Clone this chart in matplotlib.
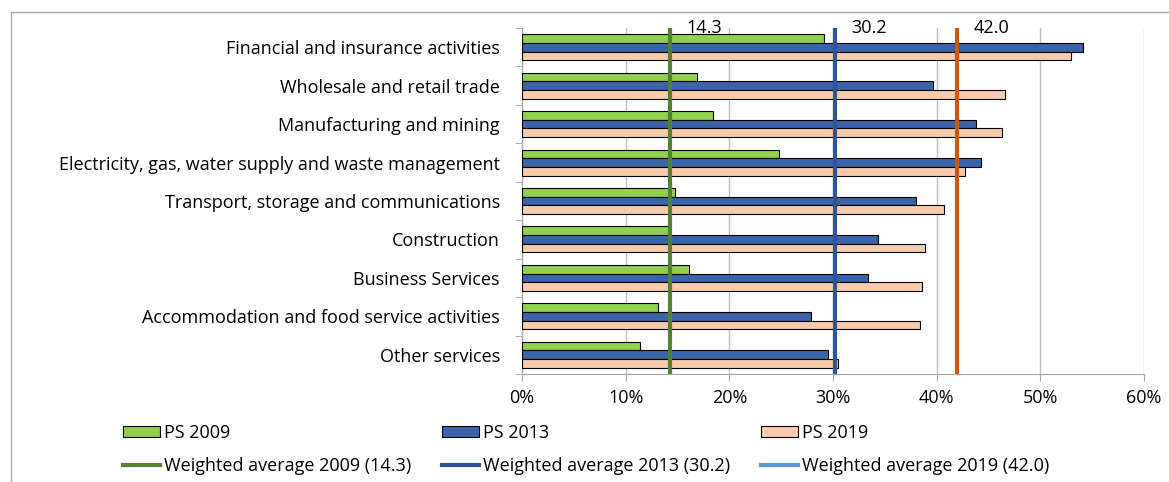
import matplotlib.pyplot as plt
from matplotlib.patches import Patch, Rectangle
from matplotlib.lines import Line2D
import numpy as np

plt.rcParams['font.family'] = ['Open Sans', 'DejaVu Sans']

# Data (share, %)
sectors = ['Financial and insurance activities', 'Wholesale and retail trade',
           'Manufacturing and mining', 'Electricity, gas, water supply and waste management',
           'Transport, storage and communications', 'Construction', 'Business Services',
           'Accommodation and food service activities', 'Other services']
ps_2009 = [29.1, 16.9, 18.4, 24.8, 14.8, 14.2, 16.1, 13.1, 11.4]
ps_2013 = [54.1, 39.6, 43.8, 44.3, 38.0, 34.3, 33.4, 27.9, 29.5]
ps_2019 = [53.0, 46.6, 46.3, 42.7, 40.7, 38.9, 38.6, 38.4, 30.5]
avg_years = ['2009', '2013', '2019']
avg_values = [14.3, 30.2, 42.0]

c09, c13, c19 = '#92D050', '#3A63AA', '#F8CBAD'
line_cols = ['#548235', '#2F5597', '#C55A11']
legend_line_cols = ['#548235', '#2F5597', '#5B9BD5']

W, H = 1169, 482
fs = 13
fig = plt.figure(figsize=(W / 100, H / 100), dpi=100)
ax = fig.add_axes([522 / W, 1 - 374 / H, (1144 - 522) / W, (374 - 28) / H])

y = np.arange(len(sectors))
h = 0.225
ax.barh(y - h, ps_2009, height=h, color=c09, edgecolor='black', linewidth=0.8, zorder=3)
ax.barh(y, ps_2013, height=h, color=c13, edgecolor='black', linewidth=0.8, zorder=3)
ax.barh(y + h, ps_2019, height=h, color=c19, edgecolor='black', linewidth=0.8, zorder=3)

for v, c in zip(avg_values, line_cols):
    ax.axvline(v, color=c, linewidth=3, zorder=4)
    ax.text(v + 1.6, -0.5, f'{v:.1f}', fontsize=fs, ha='left', va='center', zorder=5,
            color='black')

ax.set_xlim(0, 60)
ax.set_ylim(len(sectors) - 0.5, -0.5)
ax.set_xticks(np.arange(0, 61, 10))
ax.set_xticklabels([f'{t}%' for t in range(0, 61, 10)], fontsize=fs)
ax.set_yticks(y)
ax.set_yticklabels(sectors, fontsize=fs)
ax.set_yticks(np.arange(-0.5, len(sectors), 1), minor=True)
ax.tick_params(axis='y', which='major', length=0, pad=16)
ax.tick_params(axis='y', which='minor', length=5, color='#A6A6A6')
ax.tick_params(axis='x', length=5, color='#A6A6A6', pad=6)
ax.xaxis.grid(True, color='#BFBFBF', linewidth=1, zorder=0)
for s in ['top', 'right']:
    ax.spines[s].set_visible(False)
for s in ['left', 'bottom']:
    ax.spines[s].set_color('#A6A6A6')

# outer chart frame (only left and top edges visible)
fig.patches.append(Rectangle((11 / W, -0.1), 1.2, 1 - 12 / H + 0.1,
                             transform=fig.transFigure, fill=False,
                             edgecolor='#A6A6A6', linewidth=1))

bar_handles = [Patch(facecolor=c, edgecolor='black', linewidth=0.8) for c in (c09, c13, c19)]
line_handles = [Line2D([0], [0], color=c, linewidth=3) for c in legend_line_cols]
bar_labels = ['PS 2009', 'PS 2013', 'PS 2019']
line_labels = [f'Weighted average {yr} ({v:.1f})' for yr, v in zip(avg_years, avg_values)]
handles, labels = [], []
for i in range(3):
    handles += [bar_handles[i], line_handles[i]]
    labels += [bar_labels[i], line_labels[i]]
fig.legend(handles, labels, ncol=3, frameon=False, loc='upper left',
           bbox_to_anchor=(123 / W, 1 - 424 / H), fontsize=fs, handlelength=2.05,
           handleheight=0.62, handletextpad=0.22, columnspacing=1.7, labelspacing=0.85,
           borderpad=0, borderaxespad=0)

fig.savefig('out.png', dpi=100)
